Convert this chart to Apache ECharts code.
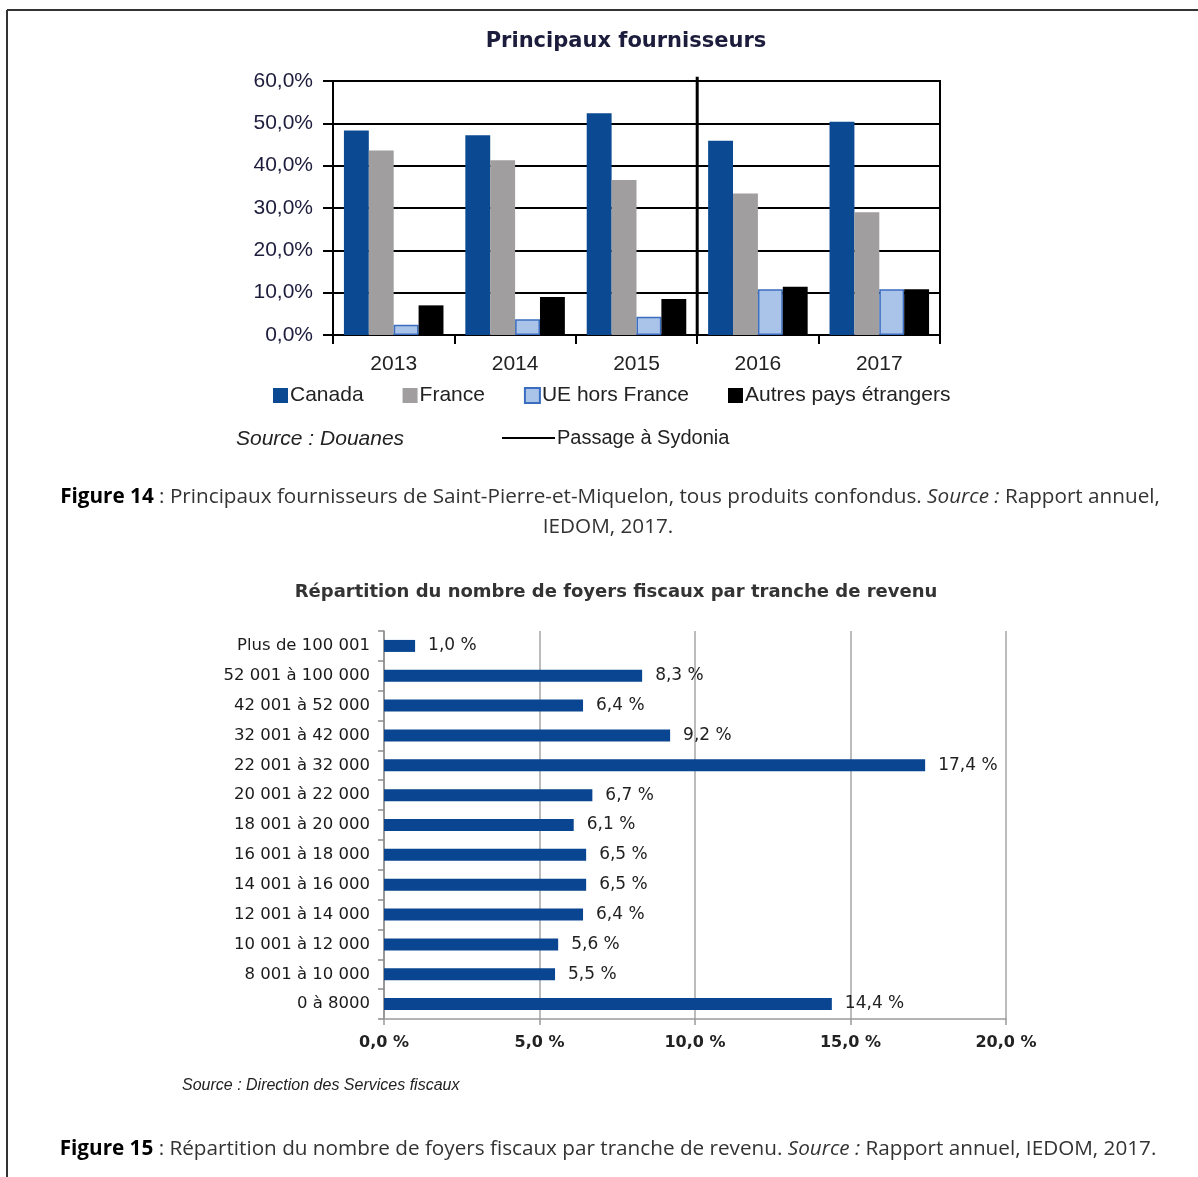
<!DOCTYPE html>
<html>
<head>
<meta charset="utf-8">
<script src="https://cdn.jsdelivr.net/npm/echarts@6/dist/echarts.min.js"></script>
<style>
  html, body { margin: 0; padding: 0; background: #fff; }
  #main { width: 1198px; height: 1177px; }
</style>
</head>
<body>
<div id="main"></div>
<script>
// chart 1 : principaux fournisseurs
var years = ['2013', '2014', '2015', '2016', '2017'];
var canada = [48.3, 47.2, 52.4, 45.9, 50.4];
var france = [43.6, 41.3, 36.6, 33.4, 29.0];
var ueHorsFrance = [2.4, 3.7, 4.3, 10.8, 10.8];
var autresPays = [7.0, 9.0, 8.5, 11.4, 10.8];
var sydonia = [[3, 0], [3, 61]]; // position du passage entre 2015 et 2016

// chart 2 : foyers fiscaux par tranche de revenu
var tranches = ['Plus de 100 001', '52 001 à 100 000', '42 001 à 52 000', '32 001 à 42 000',
	'22 001 à 32 000', '20 001 à 22 000', '18 001 à 20 000', '16 001 à 18 000',
	'14 001 à 16 000', '12 001 à 14 000', '10 001 à 12 000', '8 001 à 10 000', '0 à 8000'];
var partFoyers = [1.0, 8.3, 6.4, 9.2, 17.4, 6.7, 6.1, 6.5, 6.5, 6.4, 5.6, 5.5, 14.4];

function pct(v, sep) {
	return v.toFixed(1).replace('.', ',') + sep + '%';
}

var myChart = echarts.init(document.getElementById('main'));

var captionRich = {
	f: { fontFamily: 'Open Sans', fontSize: 20.7, fontWeight: 'bold', fill: '#000' },
	i: { fontFamily: 'Open Sans', fontSize: 20.7, fontStyle: 'italic', fill: '#333' }
};

myChart.setOption({
	animation: false,
	backgroundColor: '#fff',
	graphic: [
		// cadre
		{ type: 'line', shape: { x1: 7, y1: 10, x2: 1198, y2: 10 }, style: { stroke: '#333', lineWidth: 2 } },
		{ type: 'line', shape: { x1: 7, y1: 10, x2: 7, y2: 1177 }, style: { stroke: '#333', lineWidth: 2 } },
		{ type: 'text', x: 626, y: 42, style: { text: 'Principaux fournisseurs', fontFamily: 'DejaVu Sans', fontWeight: 'bold', fontSize: 21, fill: '#1c1c3c', align: 'center', verticalAlign: 'middle' } },
		{ type: 'text', x: 236, y: 439, style: { text: 'Source : Douanes', fontFamily: 'Liberation Sans', fontStyle: 'italic', fontSize: 21, fill: '#222', align: 'left', verticalAlign: 'middle' } },
		{ type: 'text', x: 610, y: 497, style: { text: '{f|Figure 14} : Principaux fournisseurs de Saint-Pierre-et-Miquelon, tous produits confondus. {i|Source :} Rapport annuel,', fontFamily: 'Open Sans', fontSize: 20.7, fill: '#333', align: 'center', verticalAlign: 'middle', rich: captionRich } },
		{ type: 'text', x: 608, y: 527, style: { text: 'IEDOM, 2017.', fontFamily: 'Open Sans', fontSize: 20.7, fill: '#333', align: 'center', verticalAlign: 'middle' } },
		{ type: 'text', x: 616, y: 592, style: { text: 'Répartition du nombre de foyers fiscaux par tranche de revenu', fontFamily: 'DejaVu Sans', fontWeight: 'bold', fontSize: 18, fill: '#333', align: 'center', verticalAlign: 'middle' } },
		{ type: 'text', x: 182, y: 1086, style: { text: 'Source : Direction des Services fiscaux', fontFamily: 'Liberation Sans', fontStyle: 'italic', fontSize: 16, fill: '#222', align: 'left', verticalAlign: 'middle' } },
		{ type: 'text', x: 608, y: 1149, style: { text: '{f|Figure 15} : Répartition du nombre de foyers fiscaux par tranche de revenu. {i|Source :} Rapport annuel, IEDOM, 2017.', fontFamily: 'Open Sans', fontSize: 20.7, fill: '#333', align: 'center', verticalAlign: 'middle', rich: captionRich } }
	],
	legend: [{
		data: ['Canada', 'France', 'UE hors France', 'Autres pays étrangers'],
		left: 268,
		top: 380,
		icon: 'rect',
		itemWidth: 15,
		itemHeight: 15,
		itemGap: 39,
		textStyle: { fontFamily: 'Liberation Sans', fontSize: 21, color: '#222', padding: [0, 0, 0, -3] }
	}, {
		data: [{ name: 'Passage à Sydonia', icon: 'rect' }],
		left: 497,
		top: 423,
		itemWidth: 53,
		itemHeight: 2,
		itemStyle: { color: '#000' },
		textStyle: { fontFamily: 'Liberation Sans', fontSize: 20, color: '#222', padding: [0, 0, 0, -3] }
	}],
	grid: [{
		left: 333, top: 81, width: 607, height: 254,
		show: true, borderColor: '#000', borderWidth: 2
	}, {
		left: 384, top: 631, width: 622, height: 388
	}],
	xAxis: [{
		gridIndex: 0,
		type: 'category',
		data: years,
		axisLine: { lineStyle: { color: '#000', width: 2 } },
		axisTick: { show: true, length: 9, lineStyle: { color: '#000', width: 2 } },
		axisLabel: { margin: 19, fontFamily: 'Liberation Sans', fontSize: 21, color: '#222' }
	}, {
		gridIndex: 0,
		type: 'value',
		min: 0, max: 5,
		show: false
	}, {
		gridIndex: 1,
		type: 'value',
		min: 0, max: 20, interval: 5,
		axisLine: { show: true, lineStyle: { color: '#9a9a9a', width: 1.5 } },
		axisTick: { show: true, length: 6, lineStyle: { color: '#9a9a9a', width: 1.5 } },
		splitLine: { lineStyle: { color: '#a6a6a6', width: 1.5 } },
		axisLabel: {
			margin: 16, fontFamily: 'DejaVu Sans', fontWeight: 'bold', fontSize: 16, color: '#222',
			formatter: function (v) { return pct(v, ' '); }
		}
	}],
	yAxis: [{
		gridIndex: 0,
		type: 'value',
		min: 0, max: 60, interval: 10,
		axisLine: { show: true, lineStyle: { color: '#000', width: 2 } },
		axisTick: { show: true, length: 10, lineStyle: { color: '#000', width: 2 } },
		splitLine: { lineStyle: { color: '#000', width: 2 } },
		axisLabel: {
			margin: 20, fontFamily: 'Liberation Sans', fontSize: 21, color: '#1c1c3c',
			formatter: function (v) { return pct(v, ''); }
		}
	}, {
		gridIndex: 1,
		type: 'category',
		inverse: true,
		data: tranches,
		axisLine: { lineStyle: { color: '#8c8c8c', width: 1.5 } },
		axisTick: { show: true, length: 6, lineStyle: { color: '#8c8c8c', width: 1.5 } },
		axisLabel: { margin: 14, fontFamily: 'DejaVu Sans', fontSize: 16.5, color: '#1a1a1a' }
	}],
	series: [{
		name: 'Canada', type: 'bar', xAxisIndex: 0, yAxisIndex: 0,
		data: canada, barGap: '0%', barCategoryGap: '18%',
		itemStyle: { color: '#0b4a92' }
	}, {
		name: 'France', type: 'bar', xAxisIndex: 0, yAxisIndex: 0,
		data: france,
		itemStyle: { color: '#a09e9f' }
	}, {
		name: 'UE hors France', type: 'bar', xAxisIndex: 0, yAxisIndex: 0,
		data: ueHorsFrance,
		itemStyle: { color: '#a9c4e8', borderColor: '#3a6cc0', borderWidth: 1.5 }
	}, {
		name: 'Autres pays étrangers', type: 'bar', xAxisIndex: 0, yAxisIndex: 0,
		data: autresPays,
		itemStyle: { color: '#000' }
	}, {
		name: 'Passage à Sydonia', type: 'line', xAxisIndex: 1, yAxisIndex: 0,
		data: sydonia, symbol: 'none', clip: false, z: 5,
		lineStyle: { color: '#000', width: 3 },
		itemStyle: { color: '#000' }
	}, {
		name: 'Foyers fiscaux', type: 'bar', xAxisIndex: 2, yAxisIndex: 1,
		data: partFoyers, barWidth: 12,
		itemStyle: { color: '#0a4591' },
		label: {
			show: true, position: 'right', distance: 13,
			fontFamily: 'DejaVu Sans', fontSize: 17, color: '#222',
			formatter: function (p) { return pct(p.value, ' '); }
		}
	}]
});
</script>
</body>
</html>
